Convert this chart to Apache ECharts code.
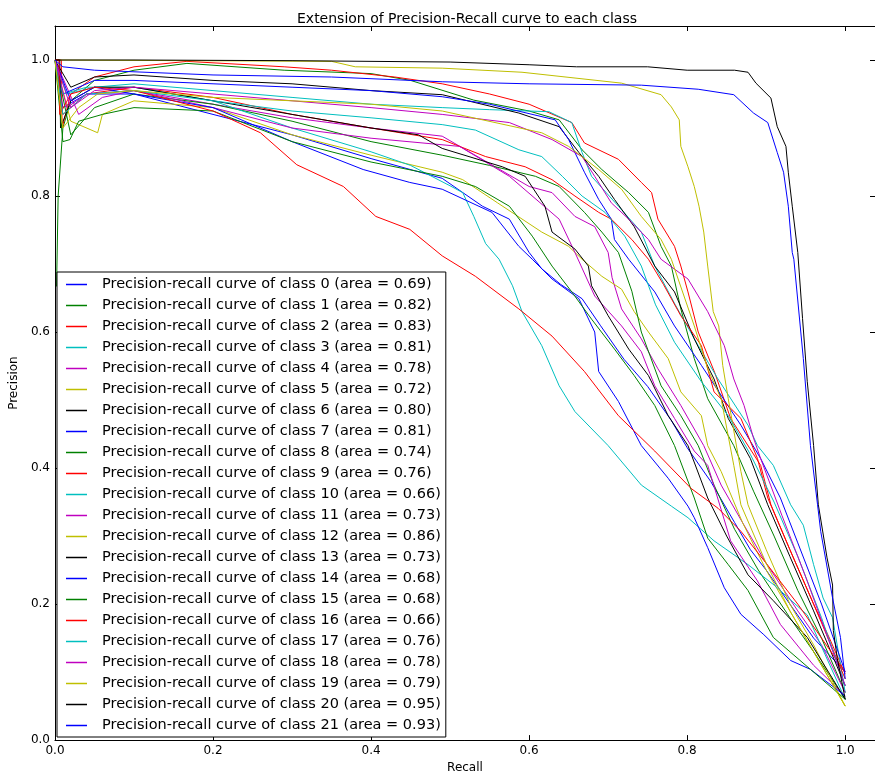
<!DOCTYPE html>
<html><head><meta charset="utf-8">
<script src="https://cdn.jsdelivr.net/npm/echarts@6/dist/echarts.min.js"></script>
<style>html,body{margin:0;padding:0;background:#fff}#c{width:875px;height:779px}</style>
</head><body><div id="c"></div>
<script>
const classNames = ['0','1','2','3','4','5','6','7','8','9','10','11','12','13','14','15','16','17','18','19','20','21'];
const areas = ['0.69','0.82','0.83','0.81','0.78','0.72','0.80','0.81','0.74','0.76','0.66','0.73','0.86','0.73','0.68','0.68','0.66','0.76','0.78','0.79','0.95','0.93'];
const xTicks = [0, 0.2, 0.4, 0.6, 0.8, 1.0];

const class0 = [[0,1],[0.01,0.93],[0.04,0.95],[0.1,0.95],[0.2,0.92],[0.3,0.89],[0.4,0.855],[0.49,0.826],[0.541,0.785],[0.575,0.766],[0.6,0.717],[0.616,0.693],[0.64,0.67],[0.667,0.649],[0.69,0.61],[0.72,0.56],[0.75,0.52],[0.78,0.47],[0.8,0.43],[0.83,0.38],[0.86,0.32],[0.88,0.28],[0.9,0.25],[0.93,0.2],[0.96,0.15],[1,0.1]];
const class1 = [[0.002,0.667],[0.004,0.8],[0.01,0.9],[0.02,0.94],[0.05,0.97],[0.1,0.985],[0.167,0.995],[0.29,0.985],[0.4,0.98],[0.45,0.97],[0.53,0.941],[0.6,0.925],[0.638,0.912],[0.667,0.868],[0.692,0.839],[0.726,0.805],[0.751,0.776],[0.767,0.726],[0.78,0.697],[0.792,0.634],[0.809,0.561],[0.826,0.502],[0.859,0.433],[0.884,0.366],[0.91,0.3],[0.94,0.22],[0.97,0.15],[1,0.07]];
const class2 = [[0,1],[0.008,1],[0.009,0.9],[0.02,0.95],[0.05,0.975],[0.1,0.99],[0.167,0.998],[0.29,0.99],[0.35,0.985],[0.43,0.975],[0.49,0.965],[0.55,0.95],[0.6,0.935],[0.654,0.908],[0.67,0.878],[0.713,0.854],[0.742,0.82],[0.755,0.805],[0.763,0.766],[0.784,0.726],[0.792,0.697],[0.801,0.659],[0.814,0.6],[0.835,0.54],[0.855,0.473],[0.893,0.404],[0.906,0.346],[0.93,0.28],[0.96,0.2],[0.98,0.15],[1,0.097]];
const class3 = [[0,1],[0.015,0.95],[0.05,0.96],[0.1,0.965],[0.2,0.955],[0.3,0.945],[0.4,0.935],[0.49,0.93],[0.55,0.927],[0.625,0.924],[0.654,0.908],[0.667,0.864],[0.679,0.829],[0.713,0.785],[0.742,0.747],[0.759,0.697],[0.785,0.64],[0.814,0.58],[0.839,0.531],[0.877,0.463],[0.889,0.433],[0.909,0.404],[0.931,0.346],[0.947,0.316],[0.96,0.258],[0.972,0.209],[0.984,0.18],[1,0.07]];
const class4 = [[0,1],[0.03,0.92],[0.06,0.945],[0.1,0.955],[0.2,0.935],[0.3,0.915],[0.4,0.9],[0.49,0.888],[0.557,0.843],[0.6,0.814],[0.629,0.805],[0.658,0.77],[0.683,0.755],[0.7,0.717],[0.705,0.68],[0.717,0.634],[0.742,0.59],[0.763,0.546],[0.792,0.492],[0.821,0.433],[0.843,0.375],[0.87,0.32],[0.9,0.26],[0.94,0.19],[0.97,0.14],[1,0.07]];
const class5 = [[0,1],[0.02,0.91],[0.054,0.893],[0.06,0.92],[0.1,0.94],[0.2,0.93],[0.3,0.89],[0.4,0.86],[0.49,0.835],[0.516,0.824],[0.56,0.79],[0.616,0.747],[0.65,0.726],[0.667,0.707],[0.692,0.682],[0.717,0.663],[0.733,0.63],[0.751,0.6],[0.776,0.561],[0.792,0.512],[0.818,0.477],[0.826,0.433],[0.843,0.395],[0.87,0.32],[0.9,0.25],[0.94,0.17],[1,0.05]];
const class6 = [[0,1],[0.02,0.96],[0.05,0.975],[0.1,0.978],[0.2,0.97],[0.3,0.965],[0.4,0.955],[0.49,0.949],[0.587,0.922],[0.638,0.902],[0.663,0.864],[0.688,0.829],[0.708,0.795],[0.733,0.755],[0.759,0.697],[0.784,0.659],[0.809,0.59],[0.834,0.531],[0.852,0.473],[0.88,0.414],[0.902,0.346],[0.93,0.27],[0.96,0.19],[1,0.08]];
const class7 = [[0,1],[0.01,0.95],[0.05,0.97],[0.1,0.97],[0.2,0.965],[0.3,0.96],[0.4,0.955],[0.49,0.946],[0.55,0.935],[0.633,0.912],[0.65,0.883],[0.67,0.835],[0.688,0.795],[0.704,0.766],[0.708,0.736],[0.726,0.707],[0.759,0.659],[0.784,0.609],[0.818,0.551],[0.868,0.463],[0.893,0.414],[0.918,0.356],[0.94,0.29],[0.97,0.2],[1,0.1]];
const class8 = [[0,1],[0.02,0.89],[0.05,0.93],[0.1,0.95],[0.2,0.935],[0.3,0.91],[0.4,0.88],[0.49,0.86],[0.55,0.845],[0.608,0.829],[0.638,0.814],[0.67,0.776],[0.692,0.747],[0.713,0.717],[0.73,0.66],[0.742,0.6],[0.767,0.521],[0.792,0.477],[0.814,0.433],[0.834,0.375],[0.86,0.31],[0.89,0.25],[0.93,0.18],[0.96,0.13],[1,0.06]];
const class9 = [[0,1],[0.01,0.92],[0.04,0.95],[0.1,0.96],[0.2,0.945],[0.3,0.92],[0.4,0.9],[0.49,0.883],[0.545,0.858],[0.595,0.843],[0.629,0.824],[0.658,0.8],[0.688,0.776],[0.704,0.766],[0.73,0.736],[0.751,0.707],[0.77,0.67],[0.792,0.624],[0.818,0.58],[0.834,0.512],[0.868,0.473],[0.889,0.414],[0.902,0.356],[0.93,0.28],[0.96,0.2],[1,0.09]];
const class10 = [[0,1],[0.01,0.95],[0.04,0.96],[0.1,0.96],[0.2,0.94],[0.3,0.9],[0.4,0.865],[0.45,0.845],[0.5,0.815],[0.516,0.805],[0.53,0.77],[0.545,0.73],[0.562,0.707],[0.579,0.668],[0.591,0.63],[0.616,0.58],[0.638,0.521],[0.658,0.483],[0.7,0.433],[0.742,0.375],[0.78,0.344],[0.801,0.327],[0.834,0.293],[0.877,0.258],[0.91,0.228],[0.952,0.184],[1,0.06]];
const class11 = [[0,1],[0.015,0.93],[0.04,0.95],[0.1,0.955],[0.2,0.93],[0.3,0.9],[0.4,0.885],[0.512,0.873],[0.575,0.829],[0.638,0.766],[0.658,0.717],[0.683,0.653],[0.717,0.609],[0.742,0.571],[0.759,0.521],[0.784,0.473],[0.809,0.425],[0.826,0.404],[0.855,0.293],[0.889,0.234],[0.918,0.17],[0.96,0.11],[1,0.065]];
const class12 = [[0,1],[0.35,0.998],[0.38,0.99],[0.49,0.988],[0.591,0.982],[0.717,0.966],[0.767,0.949],[0.78,0.931],[0.79,0.912],[0.792,0.873],[0.801,0.843],[0.809,0.814],[0.815,0.785],[0.821,0.747],[0.826,0.697],[0.833,0.63],[0.84,0.609],[0.845,0.551],[0.852,0.502],[0.868,0.395],[0.877,0.346],[0.9,0.28],[0.93,0.2],[0.96,0.14],[1,0.05]];
const class13 = [[0,1],[0.006,1],[0.007,0.9],[0.02,0.94],[0.05,0.96],[0.1,0.96],[0.2,0.94],[0.3,0.92],[0.4,0.9],[0.46,0.89],[0.49,0.87],[0.566,0.843],[0.595,0.829],[0.62,0.785],[0.629,0.747],[0.658,0.722],[0.675,0.697],[0.679,0.668],[0.7,0.624],[0.726,0.575],[0.751,0.536],[0.776,0.477],[0.801,0.433],[0.826,0.356],[0.85,0.3],[0.877,0.243],[0.909,0.205],[0.952,0.151],[1,0.06]];
const class14 = [[0,1],[0.02,0.94],[0.05,0.96],[0.1,0.95],[0.2,0.93],[0.3,0.88],[0.39,0.839],[0.449,0.82],[0.49,0.81],[0.553,0.776],[0.587,0.726],[0.604,0.707],[0.629,0.678],[0.663,0.649],[0.683,0.6],[0.688,0.542],[0.713,0.498],[0.742,0.433],[0.776,0.385],[0.801,0.344],[0.809,0.327],[0.826,0.283],[0.847,0.224],[0.868,0.185],[0.897,0.155],[0.931,0.117],[0.956,0.104],[1,0.065]];
const class15 = [[0,1],[0.01,0.88],[0.019,0.883],[0.03,0.91],[0.06,0.92],[0.1,0.93],[0.2,0.925],[0.3,0.88],[0.4,0.85],[0.49,0.829],[0.532,0.814],[0.575,0.785],[0.604,0.741],[0.629,0.697],[0.654,0.659],[0.679,0.619],[0.708,0.575],[0.733,0.536],[0.759,0.492],[0.784,0.433],[0.809,0.356],[0.826,0.297],[0.852,0.258],[0.877,0.22],[0.909,0.151],[0.934,0.126],[1,0.06]];
const class16 = [[0,1],[0.005,1],[0.006,0.92],[0.02,0.95],[0.05,0.96],[0.1,0.955],[0.15,0.94],[0.2,0.925],[0.26,0.893],[0.306,0.846],[0.365,0.814],[0.406,0.77],[0.449,0.751],[0.49,0.712],[0.532,0.682],[0.587,0.634],[0.629,0.594],[0.67,0.542],[0.713,0.477],[0.759,0.425],[0.805,0.37],[0.839,0.341],[0.868,0.307],[0.9,0.26],[0.94,0.2],[0.97,0.15],[1,0.1]];
const class17 = [[0,1],[0.01,0.92],[0.04,0.95],[0.1,0.955],[0.2,0.94],[0.3,0.925],[0.4,0.915],[0.49,0.905],[0.532,0.897],[0.587,0.868],[0.616,0.858],[0.642,0.829],[0.667,0.8],[0.696,0.776],[0.721,0.741],[0.742,0.697],[0.76,0.64],[0.784,0.585],[0.818,0.527],[0.852,0.477],[0.88,0.42],[0.91,0.35],[0.94,0.27],[0.97,0.18],[1,0.08]];
const class18 = [[0,1],[0.02,0.93],[0.05,0.955],[0.1,0.96],[0.2,0.95],[0.3,0.94],[0.4,0.93],[0.49,0.92],[0.575,0.908],[0.629,0.883],[0.667,0.858],[0.683,0.829],[0.704,0.79],[0.726,0.766],[0.751,0.736],[0.767,0.707],[0.801,0.678],[0.826,0.63],[0.847,0.58],[0.859,0.531],[0.872,0.492],[0.884,0.444],[0.893,0.414],[0.92,0.33],[0.95,0.24],[0.975,0.16],[1,0.08]];
const class19 = [[0,1],[0.01,0.9],[0.03,0.93],[0.054,0.95],[0.1,0.955],[0.2,0.945],[0.3,0.94],[0.4,0.935],[0.49,0.925],[0.616,0.893],[0.65,0.873],[0.688,0.839],[0.717,0.81],[0.742,0.77],[0.767,0.736],[0.78,0.707],[0.809,0.609],[0.826,0.546],[0.843,0.502],[0.859,0.404],[0.868,0.346],[0.9,0.26],[0.93,0.19],[0.96,0.13],[1,0.05]];
const class20 = [[0,1],[0.1,1],[0.3,0.999],[0.5,0.997],[0.6,0.993],[0.66,0.99],[0.75,0.99],[0.8,0.985],[0.86,0.985],[0.877,0.982],[0.887,0.966],[0.906,0.944],[0.914,0.902],[0.925,0.873],[0.928,0.835],[0.933,0.785],[0.94,0.717],[0.946,0.62],[0.952,0.527],[0.96,0.433],[0.966,0.346],[0.977,0.268],[0.984,0.228],[0.985,0.161],[0.99,0.12],[1,0.06]];
const class21 = [[0,1],[0.01,0.99],[0.05,0.985],[0.2,0.978],[0.35,0.975],[0.49,0.968],[0.6,0.965],[0.742,0.963],[0.814,0.957],[0.859,0.949],[0.884,0.922],[0.902,0.908],[0.914,0.864],[0.922,0.835],[0.928,0.785],[0.933,0.717],[0.935,0.707],[0.947,0.561],[0.956,0.433],[0.965,0.346],[0.969,0.307],[0.984,0.209],[0.994,0.151],[1,0.09]];

const curves = [class0,class1,class2,class3,class4,class5,class6,class7,class8,class9,class10,class11,class12,class13,class14,class15,class16,class17,class18,class19,class20,class21];
const palette = ['#0000ff','#008000','#ff0000','#00bfbf','#bf00bf','#bfbf00','#000000'];
const FONT = 'DejaVu Sans';

const names = classNames.map((c,i) => 'Precision-recall curve of class ' + c + ' (area = ' + areas[i] + ')');
const series = curves.map((d,i) => ({
  name: names[i], type: 'line', data: d, symbol: 'none', showSymbol: false,
  color: palette[i % 7], lineStyle: {width: 1, color: palette[i % 7]},
  animation: false, silent: true
}));

const axisCommon = {
  type: 'value', min: 0, interval: 0.2,
  axisLine: {show: true, onZero: false, lineStyle: {color: '#000', width: 1}},
  axisTick: {show: true, inside: true, length: 5, lineStyle: {color: '#000'}},
  splitLine: {show: false}
};

const chart = echarts.init(document.getElementById('c'));
chart.setOption({
  backgroundColor: '#fff',
  animation: false,
  title: {text: 'Extension of Precision-Recall curve to each class', left: 462, textAlign: 'center', top: 7,
    textStyle: {fontFamily: FONT, fontSize: 14, fontWeight: 'normal', color: '#000'}},
  grid: {left: 50, right: 0, top: 26, bottom: 36, containLabel: false},
  legend: {
    orient: 'vertical', left: 57, top: 272, data: names,
    icon: 'rect', itemWidth: 21, itemHeight: 1.5, itemGap: 6,
    padding: [5, 5, 4, 9],
    backgroundColor: '#fff', borderColor: '#000', borderWidth: 1, borderRadius: 0,
    textStyle: {fontFamily: FONT, fontSize: 14.5, color: '#000', lineHeight: 15, padding: [0, 0, 0, 10]},
    selectedMode: false
  },
  xAxis: [
    Object.assign({}, axisCommon, {max: 1.0377, position: 'bottom',
      name: 'Recall', nameLocation: 'middle', nameGap: 21,
      nameTextStyle: {fontFamily: FONT, fontSize: 12, color: '#000'},
      axisLabel: {show: true, fontFamily: FONT, fontSize: 12, color: '#000', margin: 5, showMaxLabel: false,
        formatter: v => xTicks.indexOf(Math.round(v*10)/10) >= 0 && Math.abs(v - Math.round(v*10)/10) < 1e-6 ? v.toFixed(1) : ''}}),
    Object.assign({}, axisCommon, {max: 1.0377, position: 'top', axisLabel: {show: false}})
  ],
  yAxis: [
    Object.assign({}, axisCommon, {max: 1.05, position: 'left',
      name: 'Precision', nameLocation: 'middle', nameGap: 32, nameRotate: 90,
      nameTextStyle: {fontFamily: FONT, fontSize: 12, color: '#000'},
      axisLabel: {show: true, fontFamily: FONT, fontSize: 12, color: '#000', margin: 5, showMaxLabel: false,
        formatter: v => Math.abs(v*5 - Math.round(v*5)) < 1e-6 ? v.toFixed(1) : ''}}),
    Object.assign({}, axisCommon, {max: 1.05, position: 'right', axisLabel: {show: false}})
  ],
  series: series
});
</script></body></html>
